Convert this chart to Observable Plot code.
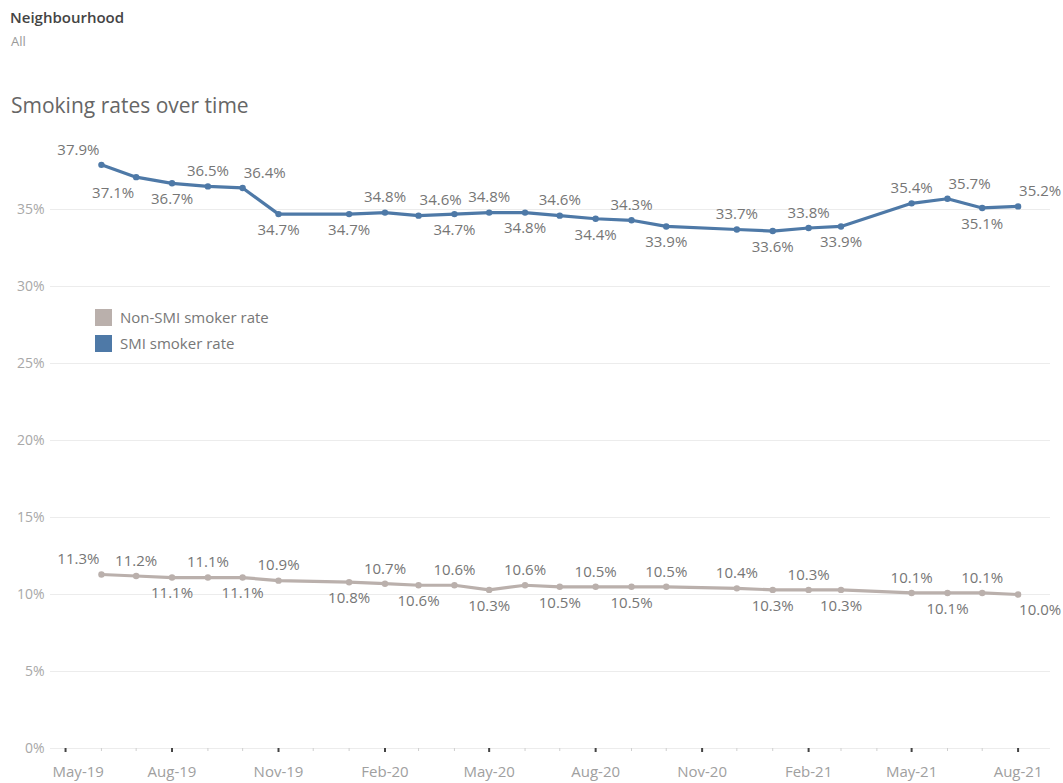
<!DOCTYPE html>
<html>
<head>
<meta charset="utf-8">
<script src="https://cdn.jsdelivr.net/npm/d3@7"></script>
<script src="https://cdn.jsdelivr.net/npm/@observablehq/plot@0.6"></script>
<style>
  html, body { margin: 0; padding: 0; background: #fff; }
  body { width: 1063px; height: 783px; position: relative; overflow: hidden; font-family: "Open Sans", sans-serif; }
  .hdr1 { position: absolute; left: 10px; top: 7px; font-size: 15px; font-weight: 600; color: #444; }
  .hdr2 { position: absolute; left: 11px; top: 32px; font-size: 13px; color: #999; }
  .title { position: absolute; left: 11px; top: 91px; font-size: 21px; color: #666; }
  #chart { position: absolute; left: 0; top: 120px; }
  .legend { position: absolute; left: 95px; top: 304px; font-size: 15px; color: #777; }
  .legend .row { display: flex; align-items: center; height: 26px; }
  .legend .sw { width: 17px; height: 17px; margin-right: 8px; }
</style>
</head>
<body>
<div class="hdr1">Neighbourhood</div>
<div class="hdr2">All</div>
<div class="title">Smoking rates over time</div>
<div id="chart"></div>
<div class="legend" id="legend"></div>
<script>
// ---- data ----
const months = ["2019-06","2019-07","2019-08","2019-09","2019-10","2019-11","2020-01","2020-02","2020-03","2020-04","2020-05","2020-06","2020-07","2020-08","2020-09","2020-10","2020-12","2021-01","2021-02","2021-03","2021-05","2021-06","2021-07","2021-08"];
const smiRate    = [37.9,37.1,36.7,36.5,36.4,34.7,34.7,34.8,34.6,34.7,34.8,34.8,34.6,34.4,34.3,33.9,33.7,33.6,33.8,33.9,35.4,35.7,35.1,35.2];
const nonSmiRate = [11.3,11.2,11.1,11.1,11.1,10.9,10.8,10.7,10.6,10.6,10.3,10.6,10.5,10.5,10.5,10.5,10.4,10.3,10.3,10.3,10.1,10.1,10.1,10.0];
const smiLabelSide    = ["aboveLeft","belowLeft","below","above","aboveRight","below","below","above","aboveRight","below","above","below","above","below","above","below","above","below","above","below","above","aboveRight","below","aboveRight"];
const nonSmiLabelSide = ["aboveLeft","above","below","above","below","above","below","above","below","above","below","above","below","above","below","above","above","below","above","below","above","below","above","belowRight"];
const seriesNames = ["Non-SMI smoker rate", "SMI smoker rate"];
const seriesColors = ["#bab0ac", "#4e79a7"];
const yTicks = [0, 5, 10, 15, 20, 25, 30, 35];
const xTickMonths = ["2019-05","2019-08","2019-11","2020-02","2020-05","2020-08","2020-11","2021-02","2021-05","2021-08"];
const allTickMonths = ["2019-05","2019-06","2019-07","2019-08","2019-09","2019-10","2019-11","2019-12","2020-01","2020-02","2020-03","2020-04","2020-05","2020-06","2020-07","2020-08","2020-09","2020-10","2020-11","2020-12","2021-01","2021-02","2021-03","2021-04","2021-05","2021-06","2021-07","2021-08"];
const xDomain = ["2019-04-18", "2021-08-29"];

// ---- build table ----
const parseM = d3.utcParse("%Y-%m");
const rows = [];
months.forEach((m, i) => {
  rows.push({date: parseM(m), value: nonSmiRate[i], series: seriesNames[0], side: nonSmiLabelSide[i]});
});
months.forEach((m, i) => {
  rows.push({date: parseM(m), value: smiRate[i], series: seriesNames[1], side: smiLabelSide[i]});
});
const fmt = d => d.toFixed(1) + "%";
const labelFont = 15;
function labels(side, opts) {
  return Plot.text(rows.filter(r => r.side === side), {
    x: "date", y: "value", text: d => fmt(d.value),
    fill: "#767676", fontSize: labelFont, lineAnchor: "middle", ...opts
  });
}
const majorTicks = xTickMonths.map(parseM);
const monthFmt = d3.utcFormat("%b-%y");

const chart = Plot.plot({
  width: 1063,
  height: 663,
  marginLeft: 50,
  marginRight: 13,
  marginTop: 12,
  marginBottom: 35,
  style: {fontFamily: "'Open Sans', sans-serif", fontSize: "14px", background: "#fff"},
  x: {type: "utc", domain: xDomain.map(d => new Date(d))},
  y: {domain: [0, 40]},
  color: {domain: seriesNames, range: seriesColors},
  marks: [
    Plot.gridY(yTicks, {stroke: "#ececec", strokeOpacity: 1}),
    Plot.axisY(yTicks, {tickSize: 0, tickPadding: 6, tickFormat: d => d + "%", color: "#a8a8a8", fontSize: 14, label: null}),
    Plot.axisX(allTickMonths.map(parseM), {tickSize: 3, stroke: "#cfcfcf", fill: "none", label: null}),
    Plot.axisX(majorTicks, {tickSize: 4, strokeWidth: 2, stroke: "#444", fill: "none", label: null}),
    Plot.axisX(majorTicks.slice(1), {tickSize: 4, stroke: "none", fill: "#a0a0a0", tickPadding: 14, tickFormat: monthFmt, fontSize: 15, label: null}),
    Plot.axisX(majorTicks.slice(0, 1), {tickSize: 4, stroke: "none", fill: "#a0a0a0", tickPadding: 14, tickFormat: monthFmt, fontSize: 15, textAnchor: "start", dx: -13, label: null}),
    Plot.line(rows, {x: "date", y: "value", z: "series", stroke: "series", strokeWidth: 3.2}),
    Plot.dot(rows, {x: "date", y: "value", fill: "series", r: 3.2}),
    labels("above", {dy: -15}),
    labels("below", {dy: 16}),
    labels("aboveLeft", {dy: -15, dx: -2, textAnchor: "end"}),
    labels("belowLeft", {dy: 16, dx: -2, textAnchor: "end"}),
    labels("aboveRight", {dy: -15, dx: 1, textAnchor: "start"}),
    labels("belowRight", {dy: 16, dx: 1, textAnchor: "start"})
  ]
});
document.getElementById("chart").appendChild(chart);

// legend
const lg = document.getElementById("legend");
seriesNames.forEach((name, i) => {
  const row = document.createElement("div");
  row.className = "row";
  const sw = document.createElement("div");
  sw.className = "sw";
  sw.style.background = seriesColors[i];
  const tx = document.createElement("span");
  tx.textContent = name;
  row.appendChild(sw); row.appendChild(tx);
  lg.appendChild(row);
});
</script>
</body>
</html>
